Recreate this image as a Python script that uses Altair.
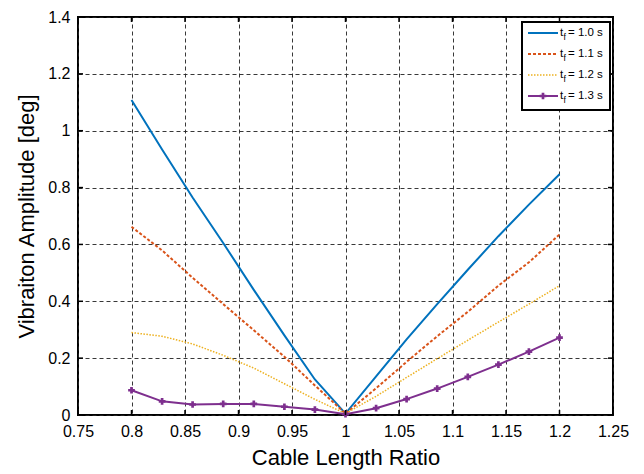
import altair as alt
import pandas as pd

# ---- data ----
x_vals = [0.8, 0.8286, 0.8571, 0.8857, 0.9143, 0.9429, 0.9714, 1.0,
          1.0286, 1.0571, 1.0857, 1.1143, 1.1429, 1.1714, 1.2]
tf10 = [1.108, 0.934, 0.765, 0.605, 0.440, 0.280, 0.125, 0.005,
        0.136, 0.266, 0.390, 0.511, 0.629, 0.740, 0.847]
tf11 = [0.662, 0.579, 0.483, 0.390, 0.298, 0.205, 0.104, 0.005,
        0.094, 0.187, 0.277, 0.363, 0.455, 0.537, 0.635]
tf12 = [0.290, 0.277, 0.250, 0.210, 0.165, 0.110, 0.055, 0.005,
        0.066, 0.132, 0.198, 0.263, 0.327, 0.390, 0.455]
tf13 = [0.087, 0.048, 0.037, 0.039, 0.039, 0.029, 0.019, 0.003,
        0.024, 0.056, 0.093, 0.134, 0.177, 0.223, 0.272]
series_labels = ["1.0", "1.1", "1.2", "1.3"]
x_ticks = [0.75, 0.8, 0.85, 0.9, 0.95, 1.0, 1.05, 1.1, 1.15, 1.2, 1.25]
y_ticks = [0, 0.2, 0.4, 0.6, 0.8, 1.0, 1.2, 1.4]

rows = []
for lab, ys in zip(series_labels, [tf10, tf11, tf12, tf13]):
    for x, y in zip(x_vals, ys):
        rows.append({"ratio": x, "amp": y, "tf": lab})
df = pd.DataFrame(rows)

W, H = 535, 398
FONT = "Liberation Sans"

xscale = alt.Scale(domain=[0.75, 1.25], nice=False, zero=False)
yscale = alt.Scale(domain=[0, 1.4], nice=False)

grid_kw = dict(grid=True, gridDash=[4, 3], gridColor="#222222", gridWidth=1,
               gridOpacity=0.9, tickSize=0, domain=False, labelColor="black",
               labelFontSize=16, labelFont=FONT, titleFont=FONT, labelFlush=False,
               titleFontSize=22, titleFontWeight="normal", titleColor="black")

X = alt.X("ratio:Q", scale=xscale,
          axis=alt.Axis(values=x_ticks, format=".2~f", title="Cable Length Ratio",
                        labelPadding=8, titlePadding=8, **grid_kw))
Y = alt.Y("amp:Q", scale=yscale,
          axis=alt.Axis(values=y_ticks, format=".1~f",
                        title="Vibraiton Amplitude [deg]",
                        labelPadding=8, titlePadding=9, **grid_kw))

styles = {
    "1.0": dict(color="#0072BD", strokeWidth=2),
    "1.1": dict(color="#D95319", strokeWidth=2, strokeDash=[3, 2]),
    "1.2": dict(color="#EDB120", strokeWidth=1.5, strokeDash=[1.5, 1.5]),
    "1.3": dict(color="#7E2F8E", strokeWidth=2),
}

layers = []
for lab in series_labels:
    layers.append(
        alt.Chart(df).transform_filter(alt.datum.tf == lab)
        .mark_line(**styles[lab]).encode(x=X, y=Y)
    )
layers.append(
    alt.Chart(df).transform_filter(alt.datum.tf == "1.3")
    .mark_point(shape="cross", filled=True, size=45, color="#7E2F8E", opacity=1)
    .encode(x=X, y=Y)
)

# inward ticks on all four sides
xt = pd.DataFrame({"ratio": x_ticks})
yt = pd.DataFrame({"amp": y_ticks})
tick_style = dict(color="black", strokeWidth=1.5)
layers += [
    alt.Chart(xt).mark_rule(**tick_style).encode(x=X, y=alt.value(H), y2=alt.value(H - 5)),
    alt.Chart(xt).mark_rule(**tick_style).encode(x=X, y=alt.value(0), y2=alt.value(5)),
    alt.Chart(yt).mark_rule(**tick_style).encode(y=Y, x=alt.value(0), x2=alt.value(5)),
    alt.Chart(yt).mark_rule(**tick_style).encode(y=Y, x=alt.value(W - 5), x2=alt.value(W)),
]

# legend (custom, to allow the subscript)
one = alt.Data(values=[{"a": 1}])
LX0, LX1, LY0, LY1 = 444, 532, 5, 93
layers.append(
    alt.Chart(one).mark_rect(fill="white", stroke="black", strokeWidth=2)
    .encode(x=alt.value(LX0), x2=alt.value(LX1), y=alt.value(LY0), y2=alt.value(LY1))
)
entry_y = [16, 37, 58, 79]
for lab, ey in zip(series_labels, entry_y):
    st = dict(styles[lab])
    layers.append(
        alt.Chart(one).mark_rule(**st)
        .encode(x=alt.value(450), x2=alt.value(480), y=alt.value(ey))
    )
    if lab == "1.3":
        layers.append(
            alt.Chart(one).mark_point(shape="cross", filled=True, size=45,
                                      color=st["color"], opacity=1)
            .encode(x=alt.value(465), y=alt.value(ey))
        )
    layers.append(
        alt.Chart(one).mark_text(text="t", font=FONT, fontSize=11.5, align="left",
                                 baseline="middle", color="black")
        .encode(x=alt.value(482), y=alt.value(ey))
    )
    layers.append(
        alt.Chart(one).mark_text(text="f", font=FONT, fontSize=8.5, align="left",
                                 baseline="middle", color="black")
        .encode(x=alt.value(485.5), y=alt.value(ey + 4))
    )
    layers.append(
        alt.Chart(one).mark_text(text=f"= {lab} s", font=FONT, fontSize=11.5,
                                 align="left", baseline="middle", color="black")
        .encode(x=alt.value(490), y=alt.value(ey))
    )

chart = (
    alt.layer(*layers)
    .properties(width=W, height=H, autosize="none",
                padding={"left": 78, "top": 17, "right": 31, "bottom": 59})
    .configure(font=FONT)
    .configure_view(stroke="black", strokeWidth=2)
)

chart.save("out.html", embed_options={"renderer": "svg", "actions": False})
